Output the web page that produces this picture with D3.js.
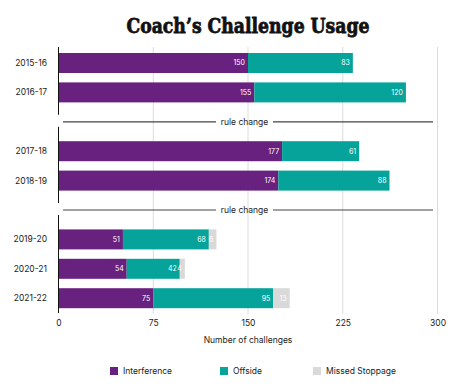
<!DOCTYPE html>
<html>
<head>
<meta charset="utf-8">
<script src="https://cdn.jsdelivr.net/npm/d3@7"></script>
<style>
  body { margin: 0; background: #fff; }
  text { font-family: Inter, "Open Sans", sans-serif; }
</style>
</head>
<body>
<div id="chart"></div>
<script>
// data
const seasons = ['2015-16', '2016-17', '2017-18', '2018-19', '2019-20', '2020-21', '2021-22'];
const interference = [150, 155, 177, 174, 51, 54, 75];
const offside = [83, 120, 61, 88, 68, 42, 95];
const missedStoppage = [null, null, null, null, 6, 4, 13];
const ruleChangeBefore = ['2017-18', '2019-20'];
const xTicks = [0, 75, 150, 225, 300];
const seriesNames = ['Interference', 'Offside', 'Missed Stoppage'];
const colors = ['#68217f', '#05a39a', '#d9d9d9'];

const width = 474, height = 391;
const margin = { left: 58.5, right: 36.5 };

const svg = d3.select('#chart').append('svg')
  .attr('width', width)
  .attr('height', height);

// rows, with a spacer row before each rule change
const rows = [];
seasons.forEach(s => {
  if (ruleChangeBefore.includes(s)) rows.push('rule-' + s);
  rows.push(s);
});

const x = d3.scaleLinear().domain([0, 300]).range([margin.left, width - margin.right]);
const y = d3.scaleBand().domain(rows).range([53, 308.2]).paddingInner(0.32).paddingOuter(0);

// title
const title = svg.append('text')
  .attr('x', width / 2 + 11)
  .attr('y', 33)
  .attr('text-anchor', 'middle')
  .style('font-family', '"DejaVu Serif", serif')
  .style('font-weight', 900)
  .style('font-size', '21px')
  .attr('fill', '#111')
  .attr('stroke', '#111')
  .attr('stroke-width', 0.8)
  .text('Coach\u2019s Challenge Usage');
const tw = title.node().getComputedTextLength();
if (tw > 0) title.attr('textLength', 243).attr('lengthAdjust', 'spacingAndGlyphs');

// grid
svg.append('g').selectAll('line')
  .data(xTicks.slice(1))
  .join('line')
  .attr('x1', d => x(d)).attr('x2', d => x(d))
  .attr('y1', 47).attr('y2', 314)
  .attr('stroke', '#dcdcdc')
  .attr('stroke-width', 1);

// stacked bars
const stacked = seasons.map((s, i) => {
  const vals = [interference[i], offside[i], missedStoppage[i]];
  let acc = 0;
  return vals.map((v, k) => {
    const seg = { season: s, k, v, x0: acc, x1: acc + (v || 0) };
    acc += v || 0;
    return seg;
  }).filter(d => d.v);
});

const rowG = svg.append('g').selectAll('g')
  .data(stacked)
  .join('g');

rowG.selectAll('rect')
  .data(d => d)
  .join('rect')
  .attr('x', d => x(d.x0))
  .attr('y', d => y(d.season))
  .attr('width', d => x(d.x1) - x(d.x0))
  .attr('height', y.bandwidth())
  .attr('fill', d => colors[d.k]);

rowG.selectAll('text')
  .data(d => d)
  .join('text')
  .attr('x', d => x(d.x1) - 3)
  .attr('y', d => y(d.season) + y.bandwidth() / 2)
  .attr('dy', '0.35em')
  .attr('text-anchor', 'end')
  .style('font-size', '7px')
  .attr('fill', '#fff')
  .text(d => d.v);

// vertical axis line, broken at rule changes
const segs = [];
let start = 47;
ruleChangeBefore.forEach(s => {
  const mid = y('rule-' + s) + y.bandwidth() / 2;
  segs.push([start, mid - 7]);
  start = mid + 5;
});
segs.push([start, 313]);
svg.append('g').selectAll('line')
  .data(segs)
  .join('line')
  .attr('x1', x(0)).attr('x2', x(0))
  .attr('y1', d => d[0]).attr('y2', d => d[1])
  .attr('stroke', '#111')
  .attr('stroke-width', 1);

// season labels
svg.append('g').selectAll('text')
  .data(seasons)
  .join('text')
  .attr('x', 47)
  .attr('y', d => y(d) + y.bandwidth() / 2)
  .attr('dy', '0.35em')
  .attr('text-anchor', 'end')
  .style('font-size', '8.5px')
  .attr('fill', '#222')
  .text(d => d);

// rule change separators
const rc = svg.append('g').selectAll('g')
  .data(ruleChangeBefore)
  .join('g')
  .attr('transform', d => `translate(0,${y('rule-' + d) + y.bandwidth() / 2})`);
rc.append('line').attr('x1', 63).attr('x2', 216).attr('stroke', '#444').attr('stroke-width', 1.2);
rc.append('line').attr('x1', 273).attr('x2', 433).attr('stroke', '#444').attr('stroke-width', 1.2);
rc.append('text')
  .attr('x', 244.5)
  .attr('dy', '0.35em')
  .attr('text-anchor', 'middle')
  .style('font-size', '8.5px')
  .attr('fill', '#222')
  .text('rule change');

// x axis
const xAxis = svg.append('g')
  .attr('transform', 'translate(0,316)')
  .call(d3.axisBottom(x).tickValues(xTicks).tickSize(0).tickPadding(4));
xAxis.select('.domain').remove();
xAxis.selectAll('text')
  .style('font-family', 'Inter, "Open Sans", sans-serif')
  .style('font-size', '8.5px')
  .attr('fill', '#222');

svg.append('text')
  .attr('x', x(150))
  .attr('y', 343)
  .attr('text-anchor', 'middle')
  .style('font-size', '8.5px')
  .attr('fill', '#222')
  .text('Number of challenges');

// legend
const legendX = [110, 220, 313];
const lg = svg.append('g').selectAll('g')
  .data(seriesNames)
  .join('g')
  .attr('transform', (d, i) => `translate(${legendX[i]},367)`);
lg.append('rect').attr('width', 8).attr('height', 8).attr('fill', (d, i) => colors[i]);
lg.append('text')
  .attr('x', 13)
  .attr('y', 4)
  .attr('dy', '0.35em')
  .style('font-size', '8.5px')
  .attr('fill', '#222')
  .text(d => d);
</script>
</body>
</html>
